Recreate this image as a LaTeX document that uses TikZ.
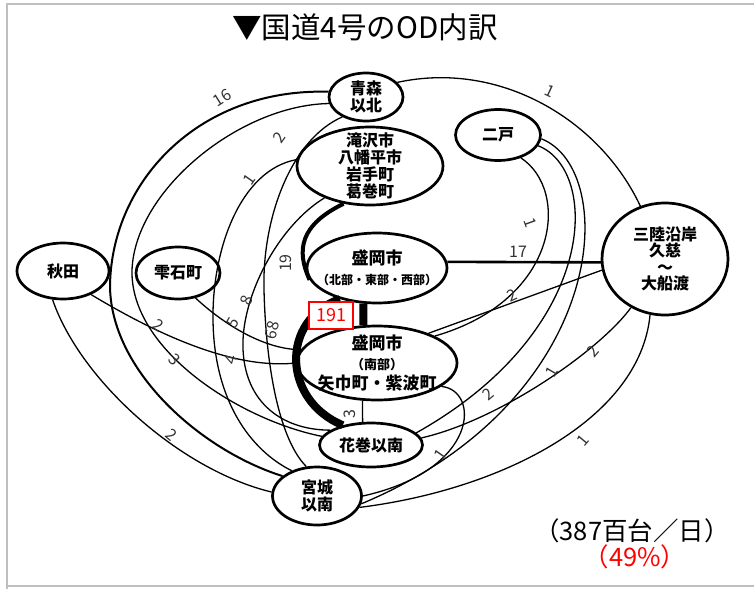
\documentclass[tikz,border=0pt]{standalone}
\usepackage{fontspec}
\setmainfont{Noto Sans CJK JP}
\usetikzlibrary{shapes.geometric}
\begin{document}
\begin{tikzpicture}[x=1pt,y=-1pt,
  el/.style={draw, ellipse, line width=2.7pt, inner sep=0pt},
  nt/.style={align=center, font=\fontsize{16}{17.5}\selectfont\bfseries, inner sep=0pt},
  ln/.style={line width=1.3pt},
  lb/.style={font=\fontsize{16}{16}\selectfont, inner sep=0pt, text=black!80},
  frame/.style={line width=2pt, draw=black!25}
]
\useasboundingbox (0,0) rectangle (754,589);
% frame
\draw[frame] (6.5,589) -- (6.5,4) -- (754,4);
\draw[frame] (6.5,586) -- (754,586);
% title
\node[font=\fontsize{29.5}{31}\selectfont] (title) at (365,27) {▼国道4号のOD内訳};
% nodes
\node[el, minimum width=74, minimum height=48] (ao) at (366,97) {};
\node[nt] at (ao) {青森\\以北};
\node[el, minimum width=146, minimum height=78] (tk) at (370,166) {};
\node[nt, font=\fontsize{16}{17}\selectfont\bfseries] at (tk) {滝沢市\\八幡平市\\岩手町\\葛巻町};
\node[el, minimum width=85, minimum height=51] (ni) at (498,135) {};
\node[nt] at (ni) {二戸};
\node[el, minimum width=126, minimum height=112] (sa) at (665,259) {};
\node[nt, font=\fontsize{16}{16.5}\selectfont\bfseries] at (sa) {三陸沿岸\\久慈\\～\\大船渡};
\node[el, minimum width=92, minimum height=56] (ak) at (63,271) {};
\node[nt] at (ak) {秋田};
\node[el, minimum width=84, minimum height=52] (sz) at (178,273) {};
\node[nt] at (sz) {雫石町};
\node[el, minimum width=140, minimum height=70] (mn) at (377,268) {};
\node[nt, font=\fontsize{17}{20}\selectfont\bfseries] at (mn) {盛岡市\\{\fontsize{12}{14}\selectfont （北部・東部・西部）}};
\node[el, minimum width=160, minimum height=74] (ms) at (377,363) {};
\node[nt, font=\fontsize{17}{20}\selectfont\bfseries] at (ms) {盛岡市\\{\fontsize{13}{14}\selectfont （南部）}\\矢巾町・紫波町};
\node[el, minimum width=103, minimum height=44] (hn) at (371,445) {};
\node[nt] at (hn) {花巻以南};
\node[el, minimum width=89, minimum height=58] (mg) at (317,496) {};
\node[nt] at (mg) {宮城\\以南};
% thick connectors
\draw[line width=4pt] (tk.235) .. controls (300,225) and (296,250) .. (mn.190);
\draw[line width=8pt] (mn.220) .. controls (280,320) and (282,400) .. (hn.145);
\draw[line width=8pt] (mn.249) -- (ms.110);
\draw[line width=2.6pt] (mn.5) -- (sa.183);
\draw[ln] (ms.249) -- (hn.110);
% left arcs
\draw[line width=2pt] (ao.172) .. controls (200,88) and (112,180) .. (110,285) .. controls (110,370) and (200,450) .. (mg.150);
\draw[ln] (ao.190) .. controls (240,105) and (135,190) .. (132,270) .. controls (130,350) and (240,420) .. (hn.170);
\draw[ln] (ao.220) .. controls (290,140) and (262,220) .. (264,290) .. controls (266,370) and (280,440) .. (mg.110);
\draw[ln] (tk.175) .. controls (240,170) and (212,250) .. (213,320) .. controls (214,400) and (250,450) .. (mg.135);
\draw[ln] (tk.215) .. controls (280,225) and (245,290) .. (243,340) .. controls (241,400) and (280,430) .. (hn.160);
\draw[ln] (ak.250) .. controls (80,380) and (180,470) .. (mg.175);
\draw[ln] (ak.-40) .. controls (150,330) and (230,370) .. (ms.180);
\draw[ln] (sz.-55) .. controls (230,330) and (270,350) .. (ms.170);
% right arcs
\draw[ln] (ao.25) .. controls (500,60) and (600,120) .. (sa.115);
\draw[ln] (ni.-45) .. controls (570,190) and (560,300) .. (ms.25);
\draw[ln] (ni.-15) .. controls (600,170) and (600,330) .. (hn.15);
\draw[ln] (ni.-5) .. controls (620,170) and (610,400) .. (mg.-10);
\draw[ln] (sa.190) -- (ms.30);
\draw[ln] (sa.235) .. controls (600,350) and (500,420) .. (hn.8);
\draw[ln] (sa.255) .. controls (640,420) and (500,490) .. (mg.-15);
\draw[ln] (ms.-20) .. controls (480,390) and (480,470) .. (mg.0);
% red box
\node[draw=red, line width=2pt, fill=white, text=red, minimum width=44, minimum height=27, inner sep=0pt, font=\fontsize{18}{18}\selectfont] (b191) at (331,315.5) {191};
% labels
\node[lb, rotate=32] (l1) at (222,98) {16};
\node[lb, rotate=55] (l2) at (279,138) {2};
\node[lb, rotate=55] (l3) at (249,180) {1};
\node[lb, rotate=-25] (l4) at (550,91) {1};
\node[lb, rotate=-70] (l5) at (530,223) {1};
\node[lb] (l6) at (518,252) {17};
\node[lb, rotate=25] (l7) at (512,295) {2};
\node[lb, rotate=50] (l8) at (593,351) {2};
\node[lb, rotate=60] (l9) at (552,372) {1};
\node[lb, rotate=40] (l10) at (488,394) {2};
\node[lb, rotate=50] (l11) at (583,440) {1};
\node[lb, rotate=55] (l12) at (440,455) {1};
\node[lb, rotate=90] (l13) at (350,414) {3};
\node[lb, rotate=75] (l14) at (272,330) {68};
\node[lb, rotate=90] (l15) at (286,263) {19};
\node[lb, rotate=70] (l16) at (247,300) {8};
\node[lb, rotate=60] (l17) at (233,323) {5};
\node[lb, rotate=75] (l18) at (231,360) {4};
\node[lb, rotate=-35] (l19) at (158,325) {2};
\node[lb, rotate=-45] (l20) at (175,360) {3};
\node[lb, rotate=-40] (l21) at (172,435) {2};
% totals
\node[font=\fontsize{25.5}{27}\selectfont] (tot) at (632,531) {（387百台／日）};
\node[font=\fontsize{25.5}{27}\selectfont, text=red] (pct) at (635,557) {（49\%）};
\end{tikzpicture}
\end{document}
